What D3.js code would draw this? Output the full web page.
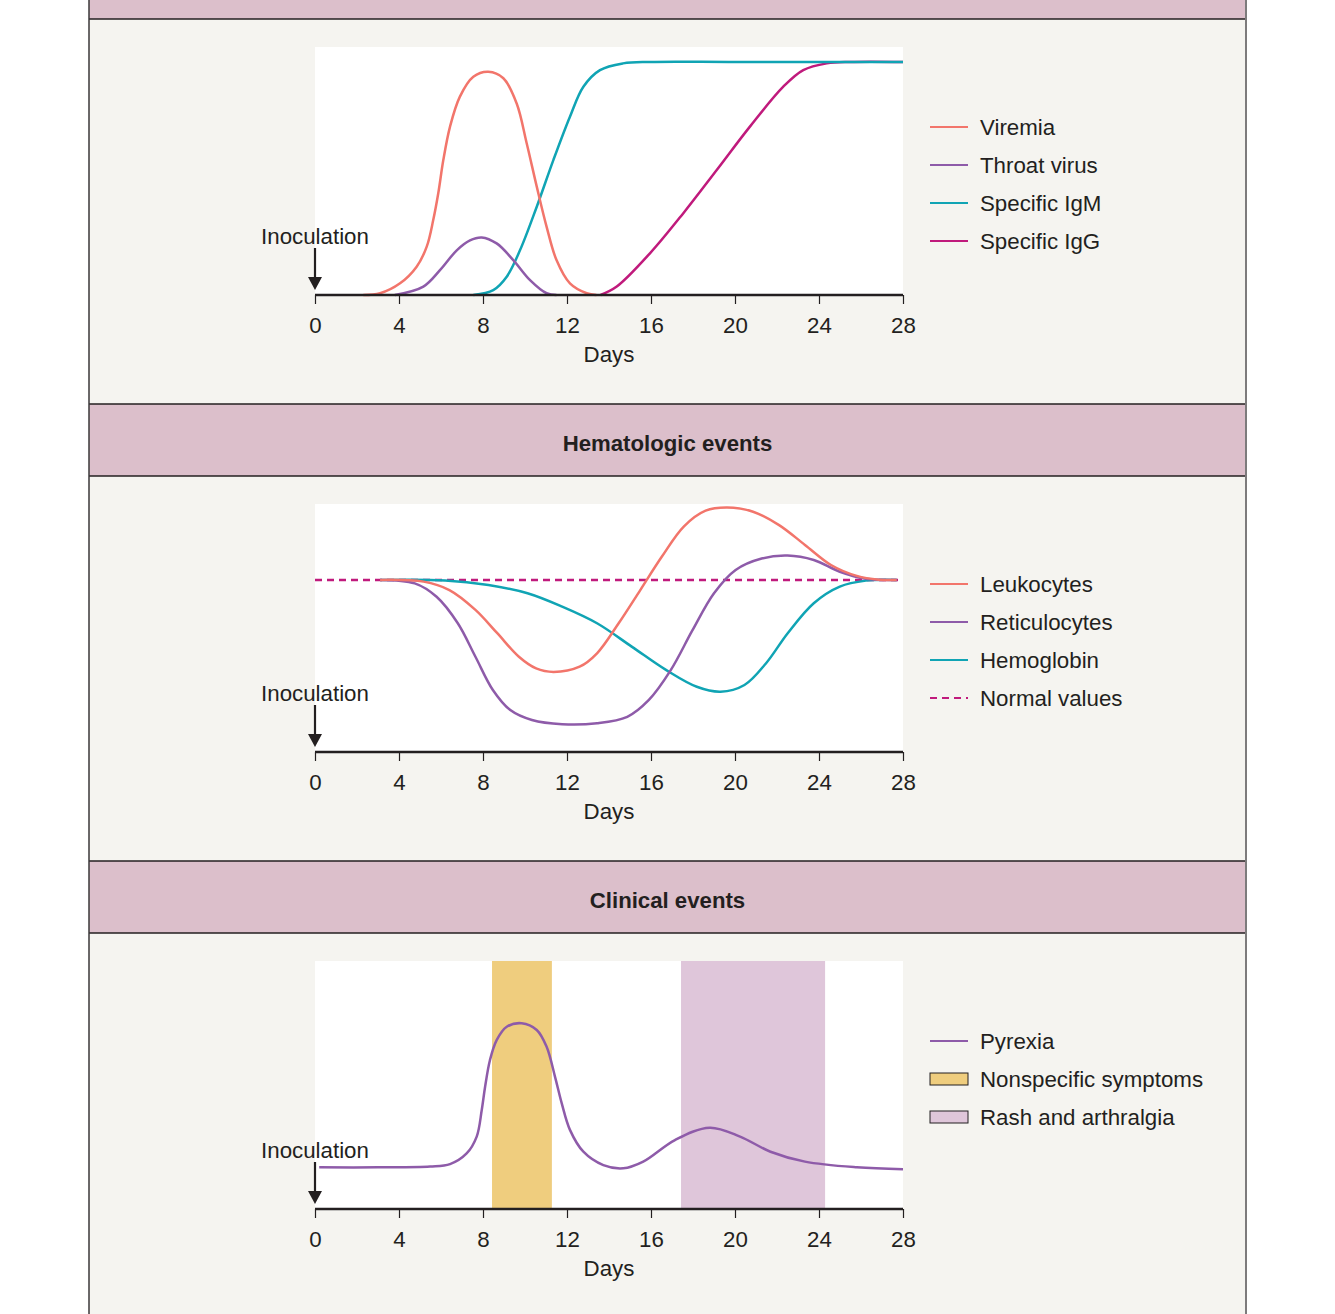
<!DOCTYPE html>
<html>
<head>
<meta charset="utf-8">
<script src="https://cdn.jsdelivr.net/npm/d3@7"></script>
<style>
  body { margin: 0; background: #fff; }
  svg { display: block; }
  text { font-family: "Liberation Sans", Arial, sans-serif; fill: #231f20; }
</style>
</head>
<body>
<div id="chart"></div>
<script>
// ---- data (day, relative level 0-100) ----
const dayTicks = [0, 4, 8, 12, 16, 20, 24, 28];
const sectionTitles = ["", "Hematologic events", "Clinical events"];

const viremia = [[2.3, 0], [3.1, 0.7], [4.05, 4.7], [4.84, 11.4], [5.32, 19.5], [5.63, 30.2], [5.87, 41],
  [6.11, 54.4], [6.43, 67.9], [6.9, 80], [7.54, 88], [8.25, 90], [8.97, 87.4], [9.6, 77.3], [10.08, 61.2],
  [10.56, 43.7], [11.03, 27.5], [11.5, 14.1], [12.14, 4.7], [12.94, 0.7], [13.4, 0]];
const throatVirus = [[3.8, 0], [5.16, 3.4], [5.95, 10], [6.75, 18], [7.38, 22], [7.94, 23.2], [8.65, 20.8],
  [9.44, 14.1], [10.24, 6], [11.03, 0.7], [11.5, 0]];
const igm = [[7.54, 0], [8.49, 2], [9.13, 7.4], [9.76, 18], [10.56, 35.6], [11.35, 54.4], [12.14, 71.9],
  [12.78, 84], [13.57, 90.7], [14.67, 93.4], [15.95, 94], [20, 94], [28, 94]];
const igg = [[13.6, 0], [14.37, 3.4], [15.95, 16.8], [17.54, 33], [19.13, 50.4], [20.71, 67.9], [22.3, 84],
  [23.25, 90.7], [24.37, 93.4], [25.5, 94], [28, 94]];

const normalLevel = 69.4;
const leukocytes = [[3.1, 69.4], [5.17, 68.7], [6.4, 65.3], [7.64, 57.3], [8.68, 47.9], [9.71, 38.4], [10.53, 33.7],
  [11.36, 32.3], [12.6, 34.4], [13.43, 39.8], [14.46, 51.9], [15.49, 65.3], [16.52, 78.8], [17.56, 90.9],
  [18.6, 97.3], [19.62, 98.6], [20.86, 96.9], [22.1, 91.5], [23.33, 83.5], [24.57, 75.4], [25.8, 71],
  [26.85, 69.5], [27.7, 69.4]];
const reticulocytes = [[3.1, 69.4], [4.75, 68], [5.79, 62.6], [6.8, 51.9], [7.64, 38.4], [8.47, 25], [9.3, 16.9],
  [10.33, 12.9], [11.77, 11.2], [13.43, 11.6], [14.87, 14.2], [15.9, 21], [16.94, 33], [17.97, 49], [19, 64],
  [20.03, 73.4], [21.27, 78], [22.5, 79.2], [23.75, 77.4], [24.99, 72.7], [26.23, 69.9], [27.7, 69.4]];
const hemoglobin = [[3.1, 69.4], [6.2, 69.2], [8.26, 67.3], [10.12, 64], [11.77, 58.6], [13.43, 51.9], [15.08, 42.5],
  [16.73, 33], [18.18, 26.3], [19.31, 24.3], [20.45, 27], [21.48, 35.8], [22.51, 47.9], [23.75, 60],
  [24.99, 66.7], [26.23, 69.1], [27.7, 69.4]];

const pyrexia = [[0.2, 16.8], [3, 16.8], [5.48, 17.1], [6.43, 18.1], [7.22, 22.4], [7.7, 29.2], [7.94, 39.9],
  [8.1, 49.3], [8.33, 60], [8.65, 68.1], [9.13, 73.5], [9.84, 74.9], [10.56, 72.2], [11.03, 65.4], [11.43, 53.3],
  [11.75, 42.6], [12.14, 31.9], [12.78, 23.1], [13.73, 17.7], [14.68, 16.4], [15.63, 19.1], [17.14, 27.8],
  [18.8, 32.8], [20.24, 29.2], [21.69, 23.1], [23.33, 19.1], [25.8, 16.8], [28, 16]];
const nonspecificDays = [8.43, 11.28];
const rashDays = [17.43, 24.29];

const colors = {
  salmon: "#f2756b", purple: "#8e5ba9", teal: "#10a4b4", magenta: "#c01a7c",
  nonspecific: "#efcd7e", rash: "#dfc6da", header: "#dcbfcb", panel: "#f5f4f0", ink: "#231f20"
};

const panels = [
  { lines: [
      { name: "Viremia", color: colors.salmon, values: viremia },
      { name: "Throat virus", color: colors.purple, values: throatVirus },
      { name: "Specific IgM", color: colors.teal, values: igm },
      { name: "Specific IgG", color: colors.magenta, values: igg }
    ] },
  { normal: normalLevel,
    lines: [
      { name: "Leukocytes", color: colors.salmon, values: leukocytes },
      { name: "Reticulocytes", color: colors.purple, values: reticulocytes },
      { name: "Hemoglobin", color: colors.teal, values: hemoglobin }
    ] },
  { bands: [
      { name: "Nonspecific symptoms", color: colors.nonspecific, days: nonspecificDays },
      { name: "Rash and arthralgia", color: colors.rash, days: rashDays }
    ],
    lines: [ { name: "Pyrexia", color: colors.purple, values: pyrexia } ] }
];

// ---- layout ----
const W = 1335, H = 1314;
const frameL = 89, frameR = 1246;
const headerTops = [0, 404, 861];
const headerBottoms = [19, 476, 933];
const panelBottoms = [404, 861, 1314];
const fontSize = 22.3;

const svg = d3.select("#chart").append("svg").attr("width", W).attr("height", H);

// frame, headers and panel backgrounds
headerTops.forEach((t, i) => {
  svg.append("rect").attr("x", frameL).attr("y", t).attr("width", frameR - frameL)
    .attr("height", headerBottoms[i] - t).attr("fill", colors.header);
  svg.append("rect").attr("x", frameL).attr("y", headerBottoms[i]).attr("width", frameR - frameL)
    .attr("height", panelBottoms[i] - headerBottoms[i]).attr("fill", colors.panel);
  if (sectionTitles[i]) {
    svg.append("text").attr("x", (frameL + frameR) / 2).attr("y", (t + headerBottoms[i]) / 2 + 11)
      .attr("text-anchor", "middle").attr("font-size", 22.2).attr("font-weight", "bold").text(sectionTitles[i]);
  }
});
[19, 404, 476, 861, 933].forEach((yy) => {
  svg.append("line").attr("x1", frameL).attr("x2", frameR).attr("y1", yy).attr("y2", yy)
    .attr("stroke", colors.ink).attr("stroke-width", 1.5);
});
svg.append("line").attr("x1", frameL).attr("x2", frameL).attr("y1", 0).attr("y2", H)
  .attr("stroke", "#3a3738").attr("stroke-width", 1.5);
svg.append("line").attr("x1", frameR).attr("x2", frameR).attr("y1", 0).attr("y2", H)
  .attr("stroke", "#7d7b7c").attr("stroke-width", 2);

const x = d3.scaleLinear().domain([0, 28]).range([315, 903]);

function drawPanel(p, top) {
  const plotTop = top + 28, plotBottom = top + 276;
  const y = d3.scaleLinear().domain([0, 100]).range([plotBottom, plotTop]);
  const g = svg.append("g");

  g.append("rect").attr("x", x(0)).attr("y", plotTop).attr("width", x(28) - x(0))
    .attr("height", plotBottom - plotTop).attr("fill", "#fff");

  (p.bands || []).forEach((b) => {
    g.append("rect").attr("x", x(b.days[0])).attr("y", plotTop)
      .attr("width", x(b.days[1]) - x(b.days[0])).attr("height", plotBottom - plotTop).attr("fill", b.color);
  });

  if (p.normal !== undefined) {
    g.append("line").attr("x1", x(0)).attr("x2", x(28)).attr("y1", y(p.normal)).attr("y2", y(p.normal))
      .attr("stroke", colors.magenta).attr("stroke-width", 2.5).attr("stroke-dasharray", "7,5");
  }

  const line = d3.line().x((d) => x(d[0])).y((d) => y(d[1])).curve(d3.curveCatmullRom.alpha(0.5));
  // draw in reverse so the first series sits on top
  p.lines.slice().reverse().forEach((s) => {
    g.append("path").datum(s.values).attr("d", line).attr("fill", "none")
      .attr("stroke", s.color).attr("stroke-width", 2.5);
  });

  // axis
  const axis = g.append("g").attr("transform", `translate(0,${ plotBottom })`)
    .call(d3.axisBottom(x).tickValues(dayTicks).tickSize(9).tickSizeOuter(0).tickPadding(13));
  axis.select(".domain").remove();
  axis.selectAll(".tick line").attr("stroke", colors.ink).attr("stroke-width", 1.2);
  axis.selectAll(".tick text").attr("font-size", fontSize).attr("fill", colors.ink)
    .attr("font-family", "'Liberation Sans', Arial, sans-serif");
  axis.append("line").attr("x1", x(0)).attr("x2", x(28)).attr("y1", 0).attr("y2", 0)
    .attr("stroke", colors.ink).attr("stroke-width", 2.6);

  g.append("text").attr("x", (x(0) + x(28)) / 2).attr("y", plotBottom + 67)
    .attr("text-anchor", "middle").attr("font-size", fontSize).text("Days");

  // inoculation marker
  g.append("text").attr("x", x(0)).attr("y", top + 225).attr("text-anchor", "middle")
    .attr("font-size", fontSize).text("Inoculation");
  g.append("line").attr("x1", x(0)).attr("x2", x(0)).attr("y1", top + 229).attr("y2", top + 262)
    .attr("stroke", colors.ink).attr("stroke-width", 2.2);
  g.append("path")
    .attr("d", `M${ x(0) - 7 },${ top + 258 } L${ x(0) + 7 },${ top + 258 } L${ x(0) },${ top + 271 } Z`)
    .attr("fill", colors.ink);

  // legend
  const items = p.lines.map((s) => ({ name: s.name, color: s.color, kind: "line" }));
  if (p.normal !== undefined) items.push({ name: "Normal values", color: colors.magenta, kind: "dash" });
  (p.bands || []).forEach((b) => items.push({ name: b.name, color: b.color, kind: "box" }));

  const lg = g.append("g").selectAll("g").data(items).join("g")
    .attr("transform", (d, i) => `translate(930,${ top + 108 + i * 38 })`);
  lg.filter((d) => d.kind !== "box").append("line").attr("x1", 0).attr("x2", 38).attr("y1", 0).attr("y2", 0)
    .attr("stroke", (d) => d.color).attr("stroke-width", 2)
    .attr("stroke-dasharray", (d) => (d.kind === "dash" ? "7,5" : null));
  lg.filter((d) => d.kind === "box").append("rect").attr("x", 0).attr("y", -6).attr("width", 38).attr("height", 12)
    .attr("fill", (d) => d.color).attr("stroke", colors.ink).attr("stroke-width", 1);
  lg.append("text").attr("x", 50).attr("y", 8).attr("font-size", fontSize).text((d) => d.name);
}

panels.forEach((p, i) => drawPanel(p, headerBottoms[i]));
</script>
</body>
</html>
